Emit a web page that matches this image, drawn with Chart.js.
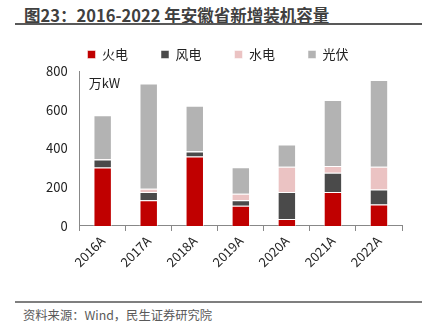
<!DOCTYPE html>
<html><head><meta charset="utf-8">
<script src="https://cdn.jsdelivr.net/npm/chart.js@4/dist/chart.umd.min.js"></script>
<style>
html,body{margin:0;padding:0;background:#fff;width:425px;height:332px;overflow:hidden;font-family:"Noto Sans CJK SC","Noto Sans",sans-serif;}
#title{position:absolute;left:24px;top:5px;font-size:16.5px;font-weight:bold;color:#404040;white-space:nowrap;line-height:20px;}
#tline{position:absolute;left:15px;top:23px;width:407px;height:0;border-top:2px solid #595959;}
#bline{position:absolute;left:15px;top:301px;width:407px;height:0;border-top:2px solid #7f7f7f;}
#src{position:absolute;left:23px;top:306px;font-size:12.3px;color:#595959;white-space:nowrap;line-height:18px;}
#wrap{position:absolute;left:0;top:12px;width:425px;height:288px;}
</style></head>
<body>
<div id="title">图23：2016-2022 年安徽省新增装机容量</div>
<div id="tline"></div>
<div id="wrap"><canvas id="c"></canvas></div>
<div id="bline"></div>
<div id="src">资料来源：Wind，民生证券研究院</div>
<script>
const categories = ["2016A","2017A","2018A","2019A","2020A","2021A","2022A"];
const thermal = [302,133,358,105,36,176,111];
const wind    = [41,42,26,28,139,99,77];
const hydro   = [3,17,2,33,131,35,118];
const solar   = [225,543,235,137,114,340,448];
const seriesNames = ["火电","风电","水电","光伏"];
const yTicks = [0,200,400,600,800];
const unitLabel = "万kW";

const unitPlugin = {
  id:'unit',
  afterDraw(chart){
    const {ctx, chartArea} = chart;
    ctx.save();
    ctx.font = '13px "Noto Sans CJK SC", "Noto Sans", sans-serif';
    ctx.fillStyle = '#222';
    ctx.textBaseline = 'middle';
    ctx.fillText(unitLabel, chartArea.left + 9, chartArea.top + 12);
    ctx.restore();
  }
};
const font = {family:'"Noto Sans CJK SC","Noto Sans",sans-serif', size:13};
const ds = (label, data, color) => ({label, data, backgroundColor: color, borderColor:'rgba(255,255,255,0.5)', borderWidth:1, barPercentage:0.4, categoryPercentage:1});
new Chart(document.getElementById('c'), {
  type:'bar',
  data:{labels:categories, datasets:[
    ds(seriesNames[0], thermal, '#C00000'),
    ds(seriesNames[1], wind, '#4A4A4A'),
    ds(seriesNames[2], hydro, '#EBC3C3'),
    ds(seriesNames[3], solar, '#B3B3B3')
  ]},
  options:{
    responsive:true, maintainAspectRatio:false, animation:false,
    layout:{padding:{left:34,right:23,top:3,bottom:28}},
    plugins:{
      legend:{position:'top', labels:{boxWidth:8, boxHeight:8, padding:33, color:'#222', font}},
      tooltip:{enabled:false}
    },
    scales:{
      x:{stacked:true,
         grid:{display:true, drawOnChartArea:false, drawTicks:true, tickLength:5, color:'#888', offset:true},
         border:{display:true, color:'#888', width:1},
         ticks:{color:'#222', font, minRotation:45, maxRotation:45, padding:2}},
      y:{stacked:true, min:0, max:800,
         afterBuildTicks(s){ s.ticks = yTicks.map(v=>({value:v})); },
         grid:{display:false, drawTicks:false},
         border:{display:true, color:'#888', width:1},
         ticks:{color:'#222', font, padding:12}}
    }
  },
  plugins:[unitPlugin]
});
</script>
</body></html>
